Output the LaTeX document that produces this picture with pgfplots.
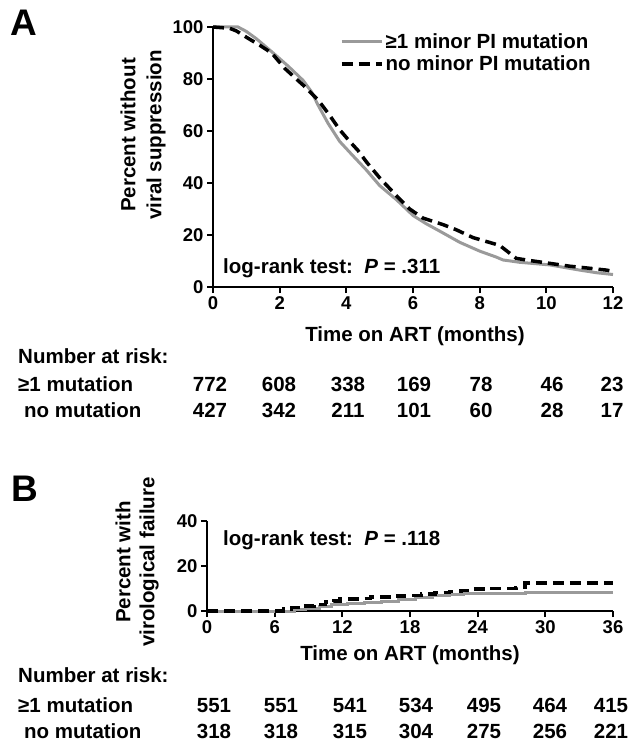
\documentclass[border=0pt]{standalone}
\usepackage{fontspec}
\setmainfont{Liberation Sans}
\usepackage{pgfplots}
\pgfplotsset{compat=1.18}
\definecolor{kmgray}{HTML}{9A9A9A}

\pgfplotsset{
  kmaxis/.style={
    scale only axis, axis lines=left,
    axis line style={-, line width=2pt},
    tick align=outside, major tick length=6pt,
    every tick/.style={black, line width=2pt},
    tick label style={font=\fontsize{18.5}{18.5}\selectfont\bfseries},
    /pgf/number format/assume math mode=true,
    clip=false,
  },
  gline/.style={kmgray, line width=3pt, no markers},
  dline/.style={black, line width=3.5pt, dash pattern=on 11pt off 6pt, no markers},
}
\tikzset{lbl/.style={font=\fontsize{20.5}{26}\selectfont\bfseries, inner sep=0pt},
         num/.style={lbl, anchor=base}}

\begin{document}
\begin{tikzpicture}
% ---------- panel A ----------
\begin{axis}[kmaxis,
  at={(213pt,-287pt)}, anchor=south west,
  width=400pt, height=260pt,
  xmin=0, xmax=12, ymin=0, ymax=100,
  xtick={0,2,...,12}, ytick={0,20,...,100},
  legend style={at={(rel axis cs:0.31,0.99)}, anchor=north west,
    draw=none, fill=none, font=\fontsize{20.5}{22}\selectfont\bfseries,
    row sep=1.5pt},
  legend cell align=left,
  legend image code/.code={\draw[#1] (0pt,0pt) -- (28pt,0pt);
    \path (0pt,0pt) -- (40pt,0pt);},
]
\addplot[gline] coordinates {
  (0,100) (0.75,100) (1.0,98.3) (1.3,95.5) (1.76,90.5) (2.25,85) (2.7,79.5)
  (2.96,75) (3.15,70) (3.45,63) (3.8,56) (4.16,51) (4.6,45) (5.0,39)
  (5.51,33.5) (6.0,27.5) (6.4,24.3) (6.8,21.5) (7.4,17.2) (8.0,13.8)
  (8.5,11.5) (8.7,10.4) (9.2,9.5) (10.1,8.5) (11,6.5) (11.5,5.5) (12,4.8)};
\addlegendentry{≥1 minor PI mutation}
\addplot[dline] coordinates {
  (0,100) (0.5,99.5) (0.7,98.5) (1.06,95.6) (1.4,93) (1.76,90) (2.16,84)
  (2.5,80) (2.76,77) (3.15,72) (3.5,66) (3.8,60.5) (4.1,56) (4.35,52.5)
  (4.61,48) (5.0,42) (5.51,35) (5.9,30) (6.3,26.5) (6.9,24) (7.3,22)
  (7.8,19) (8.2,17.5) (8.6,16) (8.8,14) (9.1,11) (9.5,10.2) (10.1,9.1)
  (10.7,8) (11.3,7.2) (11.8,6.5) (12,6)};
\addlegendentry{no minor PI mutation}
\end{axis}

% ---------- panel B ----------
\begin{axis}[kmaxis,
  at={(207pt,-611pt)}, anchor=south west,
  width=406pt, height=90pt,
  xmin=0, xmax=36, ymin=0, ymax=40,
  xtick={0,6,...,36}, ytick={0,20,40},
]
\addplot[gline, const plot] coordinates {
  (0,0) (7,0) (7.8,0.8) (8.7,1.3) (10,2) (11,2.7) (12.5,3.2) (14,3.7)
  (15.5,4.3) (17,5.2) (18.5,6) (20,6.8) (21.5,7.4) (22.7,7.9) (28.2,8.2)
  (36,8.2)};
\addplot[dline, const plot] coordinates {
  (0,0) (6.3,0) (6.8,1) (7.5,1.5) (8.5,2.3) (9.5,3) (10.5,4) (11.2,4.5)
  (11.8,5.3) (13.5,5.5) (14.5,6.2) (16.5,6.6) (17.5,7) (19,7.6) (20.2,8.2)
  (21.5,8.7) (22.5,9.2) (23.5,9.8) (25,10.1) (27.4,10.5) (28.2,12.5)
  (36,12.5)};
\end{axis}

% ---------- labels ----------
\node[font=\fontsize{37}{37}\selectfont\bfseries, inner sep=0pt] at (24pt,-23pt) {A};
\node[font=\fontsize{37}{37}\selectfont\bfseries, inner sep=0pt] at (25pt,-489pt) {B};

\node[lbl, rotate=90, align=center] at (143pt,-135pt) {Percent without\\viral suppression};
\node[lbl, rotate=90, align=center, font=\fontsize{20.5}{24}\selectfont\bfseries] at (137pt,-562pt) {Percent with\\virological failure};

\node[lbl] at (415pt,-336pt) {Time on ART (months)};
\node[lbl] at (410pt,-655pt) {Time on ART (months)};

\node[lbl, anchor=west] at (223pt,-268pt) {log-rank test:\ \ \textit{P} = .311};
\node[lbl, anchor=west] at (223pt,-540pt) {log-rank test:\ \ \textit{P} = .118};

% number at risk A
\node[num, anchor=base west] at (18pt,-363pt) {Number at risk:};
\node[num, anchor=base west] at (18pt,-391pt) {≥1 mutation};
\node[num, anchor=base west] at (24pt,-417pt) {no mutation};
\foreach \x/\a/\b in {210/772/427, 279/608/342, 348/338/211, 414/169/101,
                      481/78/60, 552/46/28, 612/23/17} {
  \node[num] at (\x pt,-391pt) {\a};
  \node[num] at (\x pt,-417pt) {\b};
}
% number at risk B
\node[num, anchor=base west] at (18pt,-682pt) {Number at risk:};
\node[num, anchor=base west] at (18pt,-712pt) {≥1 mutation};
\node[num, anchor=base west] at (24pt,-738pt) {no mutation};
\foreach \x/\a/\b in {214/551/318, 281/551/318, 350/541/315, 416/534/304,
                      484/495/275, 550/464/256, 611/415/221} {
  \node[num] at (\x pt,-712pt) {\a};
  \node[num] at (\x pt,-738pt) {\b};
}

\pgfresetboundingbox
\path[use as bounding box] (0,0) rectangle (630pt,-743pt);
\end{tikzpicture}
\end{document}
